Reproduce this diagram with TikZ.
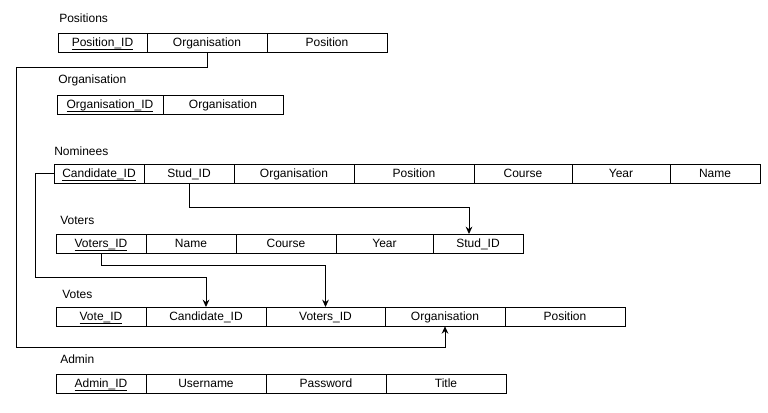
\documentclass[tikz,border=0pt]{standalone}
\usepackage{fontspec}
\setmainfont{Liberation Sans}
\usepackage{tikz}
\usetikzlibrary{positioning,arrows.meta}
\newcommand\keyname[1]{\underline{\smash{#1}}}

\begin{document}
\begin{tikzpicture}[
    x=0.75pt, y=-0.75pt,
    title/.style={anchor=west, inner sep=0pt, font=\fontsize{9}{11}\selectfont},
    cell/.style={draw, line width=0.75pt, minimum width=#1*0.75pt,
                 minimum height=14.5pt, inner sep=0pt, outer sep=0pt,
                 text height=6.4pt, text depth=0pt,
                 font=\fontsize{9}{11}\selectfont},
    link/.style={draw, line width=0.75pt, -{Stealth[length=5.5pt,width=5pt]}},
]
\useasboundingbox (0,0) rectangle (768,412);

% Positions
\node[title] (tPos) at (59,18) {Positions};
\node[cell=89, anchor=north west] (posID) at (58,33) {\keyname{Position\_ID}};
\node[cell=120, right=0pt of posID] (posOrg) {Organisation};
\node[cell=120, right=0pt of posOrg] (posPos) {Position};

% Organisation
\node[title] (tOrg) at (58,80) {Organisation};
\node[cell=106, anchor=north west] (orgID) at (57,95) {\keyname{Organisation\_ID}};
\node[cell=120, right=0pt of orgID] (orgOrg) {Organisation};

% Nominees
\node[title] (tNom) at (54,151) {Nominees};
\node[cell=90, anchor=north west] (nomCand) at (54,164) {\keyname{Candidate\_ID}};
\node[cell=90, right=0pt of nomCand] (nomStud) {Stud\_ID};
\node[cell=120, right=0pt of nomStud] (nomOrg) {Organisation};
\node[cell=120, right=0pt of nomOrg] (nomPos) {Position};
\node[cell=98, right=0pt of nomPos] (nomCourse) {Course};
\node[cell=98, right=0pt of nomCourse] (nomYear) {Year};
\node[cell=90, right=0pt of nomYear] (nomName) {Name};

% Voters
\node[title] (tVot) at (60,220) {Voters};
\node[cell=90, anchor=north west] (votID) at (56,234) {\keyname{Voters\_ID}};
\node[cell=90, right=0pt of votID] (votName) {Name};
\node[cell=100, right=0pt of votName] (votCourse) {Course};
\node[cell=97, right=0pt of votCourse] (votYear) {Year};
\node[cell=90, right=0pt of votYear] (votStud) {Stud\_ID};

% Votes
\node[title] (tVt) at (62,294) {Votes};
\node[cell=90, anchor=north west] (vtID) at (56,307) {\keyname{Vote\_ID}};
\node[cell=120, right=0pt of vtID] (vtCand) {Candidate\_ID};
\node[cell=119, right=0pt of vtCand] (vtVot) {Voters\_ID};
\node[cell=120, right=0pt of vtVot] (vtOrg) {Organisation};
\node[cell=120, right=0pt of vtOrg] (vtPos) {Position};

% Admin
\node[title] (tAdm) at (60,359) {Admin};
\node[cell=90, anchor=north west] (admID) at (56,374) {\keyname{Admin\_ID}};
\node[cell=120, right=0pt of admID] (admUser) {Username};
\node[cell=120, right=0pt of admUser] (admPass) {Password};
\node[cell=120, right=0pt of admPass] (admTitle) {Title};

% foreign keys
\coordinate (busL) at (16,347);
\coordinate (candL) at (35,277);
\draw[link] (posOrg.south) -- ++(0,15) -| (busL) -| (vtOrg.south);
\draw[link] (nomCand.west) -| (candL) -| (vtCand.north);
\draw[link] (nomStud.south) -- ++(0,24) -| ([xshift=-6.75pt]votStud.north);
\draw[link] (votID.south) -- ++(0,12) -| (vtVot.north);
\end{tikzpicture}
\end{document}
